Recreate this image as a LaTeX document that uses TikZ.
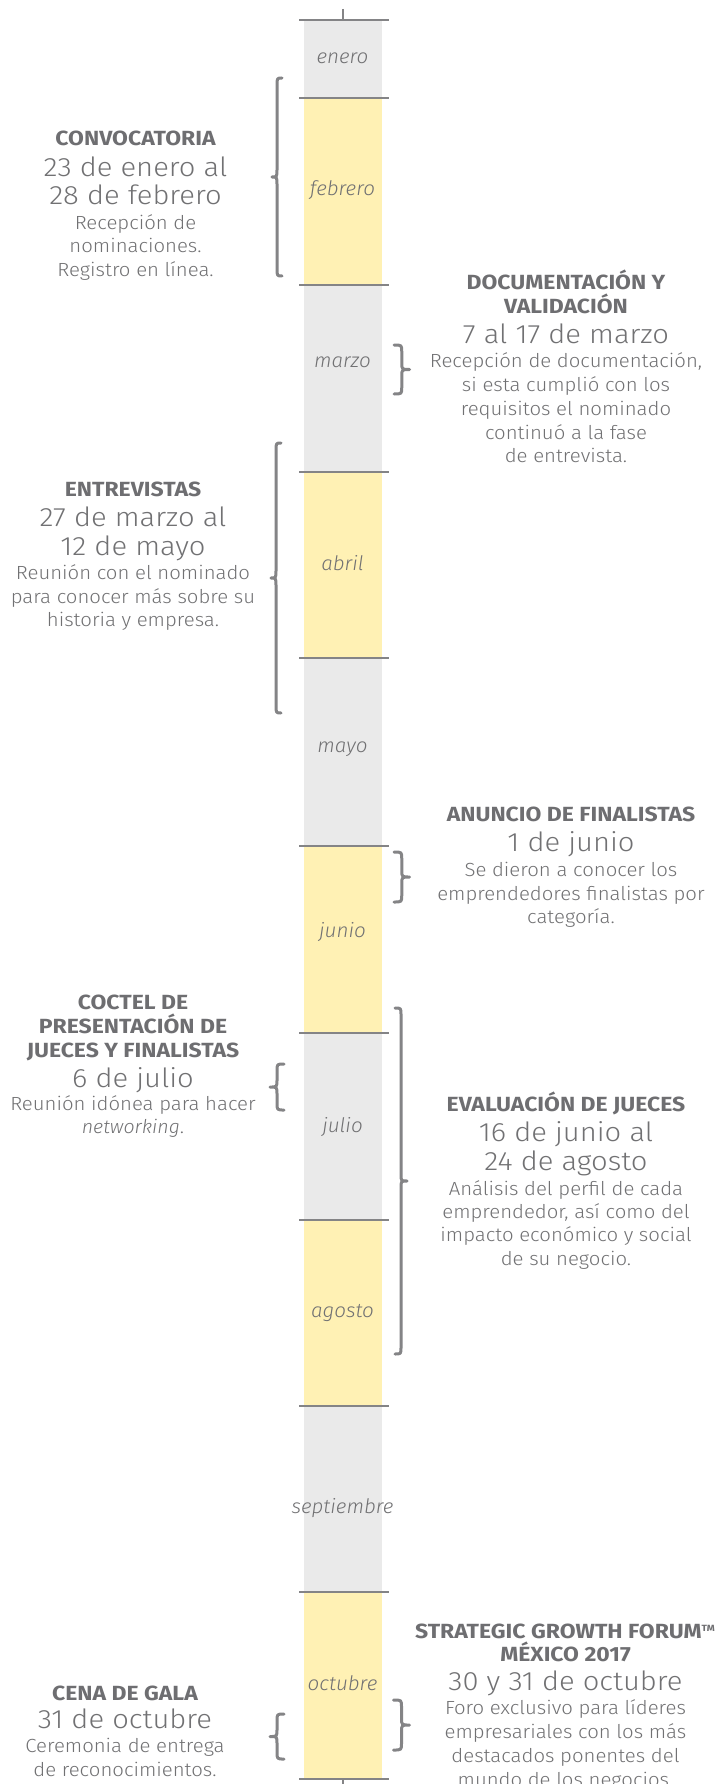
\documentclass[tikz,border=0pt]{standalone}
\usepackage{fontspec}
\setmainfont{Fira Sans}
\IfFontExistsTF{Fira Sans Light}{%
  \newfontfamily\datefont{Fira Sans Light}[FakeStretch=1.1]%
  \newfontfamily\bodyfont{Fira Sans Light}[FakeStretch=1.07]%
}{%
  \newfontfamily\datefont{Fira Sans}[FakeStretch=1.1]%
  \newfontfamily\bodyfont{Fira Sans}[FakeStretch=1.07]%
}
\IfFontExistsTF{Fira Sans Light Italic}{\newfontfamily\lightitfont{Fira Sans Light Italic}[FakeStretch=1.03]}{\newfontfamily\lightitfont{Fira Sans Italic}[FakeStretch=1.03]}
\IfFontExistsTF{Fira Sans Bold}{\newfontfamily\titlefont{Fira Sans Bold}[FakeStretch=1.12]}{\newfontfamily\titlefont{Fira Sans}[FakeStretch=1.12,UprightFeatures={FakeBold=1}]}
\definecolor{txtc}{HTML}{717173}
\definecolor{ttlc}{HTML}{6E6E71}
\definecolor{linc}{HTML}{848486}
\definecolor{gryf}{HTML}{EAEAEA}
\definecolor{ylwf}{HTML}{FFF1B4}
\tikzset{
  ttl/.style={anchor=base, inner sep=0pt, text=ttlc, font=\titlefont\fontsize{20.5}{20.5}\selectfont},
  dte/.style={anchor=base, inner sep=0pt, text=txtc, font=\datefont\fontsize{26.5}{26.5}\selectfont},
  bdy/.style={anchor=base, inner sep=0pt, text=txtc, font=\bodyfont\fontsize{19}{19}\selectfont},
  mon/.style={anchor=base, inner sep=0pt, text=txtc, font=\lightitfont\fontsize{20}{20}\selectfont},
  tickline/.style={line width=2pt, draw=linc},
  brcline/.style={line width=3pt, draw=linc, line cap=round, line join=round},
  pics/brc/.style n args={3}{code={
    \draw[brcline] (0,{-#1}) .. controls ({#2*0.5},{-#1}) .. ({#2*0.5},{-#1+#3})
      -- ({#2*0.5},{-#3}) .. controls ({#2*0.5},0) .. (#2,0)
      .. controls ({#2*0.5},0) .. ({#2*0.5},#3)
      -- ({#2*0.5},{#1-#3}) .. controls ({#2*0.5},#1) .. (0,#1);
  }}
}
\begin{document}
\begin{tikzpicture}[x=1pt,y=-1pt]
\clip (0,0) rectangle (720,1784);
\fill[white] (0,0) rectangle (720,1784);
% column segments
\fill[gryf] (304,20) rectangle (382,98);
\fill[ylwf] (304,98) rectangle (382,285);
\fill[gryf] (304,285) rectangle (382,472);
\fill[ylwf] (304,472) rectangle (382,658);
\fill[gryf] (304,658) rectangle (382,846);
\fill[ylwf] (304,846) rectangle (382,1033);
\fill[gryf] (304,1033) rectangle (382,1220);
\fill[ylwf] (304,1220) rectangle (382,1406);
\fill[gryf] (304,1406) rectangle (382,1592);
\fill[ylwf] (304,1592) rectangle (382,1779);
\foreach \yy in {20,98,285,472,658,846,1033,1220,1406,1592,1779}
  \draw[tickline] (299,\yy) -- (389,\yy);
\draw[tickline] (343,9) -- (343,20);
\draw[tickline] (343,1779) -- (343,1790);
% months
\node[mon] (m1) at (342.5,63.5) {enero};
\node[mon] (m2) at (342.5,195.5) {febrero};
\node[mon] (m3) at (342.5,367) {marzo};
\node[mon] (m4) at (342.5,570) {abril};
\node[mon] (m5) at (342.5,752.3) {mayo};
\node[mon] (m6) at (342.5,937) {junio};
\node[mon] (m7) at (342.5,1132) {julio};
\node[mon] (m8) at (342.5,1317.3) {agosto};
\node[mon] (m9) at (342.5,1513.3) {septiembre};
\node[mon] (m10) at (342.5,1690) {octubre};
% braces
\pic at (282,177) {brc={99}{-10}{8}};
\pic at (394,369.5) {brc={24.5}{15.5}{7}};
\pic at (281,578) {brc={135}{-10}{8}};
\pic at (394,877) {brc={25}{15.5}{7}};
\pic at (395,1181) {brc={173}{12}{7}};
\pic at (284,1087) {brc={23}{-14}{7}};
\pic at (393.5,1725) {brc={25}{16}{7}};
\pic at (284,1736.5) {brc={22.5}{-14}{7}};
% CONVOCATORIA
\node[ttl] (cv1) at (135.5,145.7) {CONVOCATORIA};
\node[dte] (cv2) at (135.5,176.7) {23 de enero al};
\node[dte] (cv3) at (135.5,204.7) {28 de febrero};
\node[bdy] (cv4) at (135.5,229.5) {Recepción de};
\node[bdy] (cv5) at (135.5,253) {nominaciones.};
\node[bdy] (cv6) at (135.5,276.7) {Registro en línea.};
% DOCUMENTACION
\node[ttl] (dv1) at (566,289.3) {DOCUMENTACIÓN Y};
\node[ttl] (dv2) at (566,313.3) {VALIDACIÓN};
\node[dte] (dv3) at (566,343.3) {7 al 17 de marzo};
\node[bdy] (dv4) at (566,367.3) {Recepción de documentación,};
\node[bdy] (dv5) at (566,391) {si esta cumplió con los};
\node[bdy] (dv6) at (566,415) {requisitos el nominado};
\node[bdy] (dv7) at (566,439) {continuó a la fase};
\node[bdy] (dv8) at (566,462.7) {de entrevista.};
% ENTREVISTAS
\node[ttl] (en1) at (133,496.7) {ENTREVISTAS};
\node[dte] (en2) at (133,526) {27 de marzo al};
\node[dte] (en3) at (133,555) {12 de mayo};
\node[bdy] (en4) at (133,579.3) {Reunión con el nominado};
\node[bdy] (en5) at (133,603.3) {para conocer más sobre su};
\node[bdy] (en6) at (133,626.7) {historia y empresa.};
% ANUNCIO
\node[ttl] (an1) at (571,821.7) {ANUNCIO DE FINALISTAS};
\node[dte] (an2) at (571,851.7) {1 de junio};
\node[bdy] (an3) at (571,876.7) {Se dieron a conocer los};
\node[bdy] (an4) at (571,900) {emprendedores finalistas por};
\node[bdy] (an5) at (571,923.3) {categoría.};
% COCTEL
\node[ttl] (co1) at (133,1009.3) {COCTEL DE};
\node[ttl] (co2) at (133,1033.3) {PRESENTACIÓN DE};
\node[ttl] (co3) at (133,1057.3) {JUECES Y FINALISTAS};
\node[dte] (co4) at (133,1087.3) {6 de julio};
\node[bdy] (co5) at (133,1110.8) {Reunión idónea para hacer};
\node[bdy] (co6) at (133,1133.5) {{\lightitfont networking}.};
% EVALUACION
\node[ttl] (ev1) at (566,1111.7) {EVALUACIÓN DE JUECES};
\node[dte] (ev2) at (566,1141.7) {16 de junio al};
\node[dte] (ev3) at (566,1170) {24 de agosto};
\node[bdy] (ev4) at (566,1195) {Análisis del perfil de cada};
\node[bdy] (ev5) at (566,1218.3) {emprendedor, así como del};
\node[bdy] (ev6) at (566,1241.7) {impacto económico y social};
\node[bdy] (ev7) at (566,1265) {de su negocio.};
% STRATEGIC
\node[ttl] (sg1) at (565,1638.3) {STRATEGIC GROWTH FORUM\raisebox{7pt}{\fontsize{9}{9}\selectfont TM}};
\node[ttl] (sg2) at (565.5,1661.7) {MÉXICO 2017};
\node[dte] (sg3) at (565.5,1690) {30 y 31 de octubre};
\node[bdy] (sg4) at (565.5,1714.3) {Foro exclusivo para líderes};
\node[bdy] (sg5) at (565.5,1738.3) {empresariales con los más};
\node[bdy] (sg6) at (565.5,1762.3) {destacados ponentes del};
\node[bdy] (sg7) at (565.5,1786.3) {mundo de los negocios.};
% CENA
\node[ttl] (cg1) at (125,1700) {CENA DE GALA};
\node[dte] (cg2) at (125,1728.3) {31 de octubre};
\node[bdy] (cg3) at (125,1752.7) {Ceremonia de entrega};
\node[bdy] (cg4) at (125,1776.7) {de reconocimientos.};
\end{tikzpicture}
\end{document}
